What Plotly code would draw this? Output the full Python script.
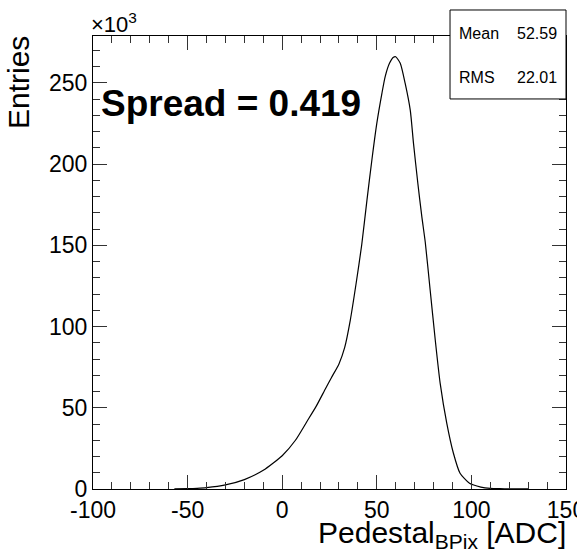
import plotly.graph_objects as go

# Histogram contour (pedestal in ADC, entries in thousands)
pedestal = [-57, -50, -45, -40, -30, -20, -10, 0, 7, 13, 18, 23, 26, 30, 33, 36, 39, 42,
            44.8, 47.4, 50, 52.7, 54.4, 56.7, 58.8, 60, 62.4, 65, 67.7, 69.4, 71.7, 73.8,
            75.6, 78.2, 80.9, 83.5, 87, 90.5, 94, 99, 105, 110, 115, 120, 125, 130]
entries_k = [0.05, 0.2, 0.4, 0.8, 2.5, 5.8, 11.5, 20.5, 30, 41.4, 51, 62, 68.5, 77, 87, 104, 126, 150,
             177.8, 202.5, 225, 243.5, 253.7, 262, 265.7, 266, 262, 249.6, 233, 212.7, 188, 167.6,
             152, 122.5, 91.7, 65, 40.4, 22, 9.7, 3.5, 1.2, 0.4, 0.2, 0.1, 0.05, 0.02]

x_ticks = [-100, -50, 0, 50, 100, 150]
y_ticks = [0, 50, 100, 150, 200, 250]
stats_names = ["Mean", "RMS"]
stats_values = ["52.59", "22.01"]
spread_text = "Spread = 0.419"

FONT = "Liberation Sans, Arial, Helvetica, sans-serif"

fig = go.Figure()
fig.add_trace(go.Scatter(x=pedestal, y=entries_k, mode="lines",
                         line=dict(color="black", width=1.2, shape="spline", smoothing=0.6),
                         showlegend=False, hoverinfo="skip"))

axis_common = dict(showline=True, linecolor="black", linewidth=1, mirror="ticks",
                   ticks="inside", ticklen=14, tickcolor="#333", tickwidth=1,
                   showgrid=False, zeroline=False, ticklabeloverflow="allow", automargin=False,
                   tickfont=dict(family=FONT, size=23, color="black"))

fig.update_xaxes(range=[-100, 150], tickvals=x_ticks, ticktext=[str(v) for v in x_ticks],
                 minor=dict(ticks="inside", ticklen=7, dtick=10, tick0=0, tickcolor="#333", showgrid=False),
                 **axis_common)
fig.update_yaxes(range=[0, 278.8], tickvals=y_ticks, ticktext=[str(v) for v in y_ticks],
                 minor=dict(ticks="inside", ticklen=7, dtick=10, tick0=0, tickcolor="#333", showgrid=False),
                 **axis_common)

fig.update_layout(
    width=577, height=554,
    margin=dict(l=93, r=11, t=36, b=65, autoexpand=False),
    paper_bgcolor="white", plot_bgcolor="white",
    font=dict(family=FONT, color="black"),
)

# x10^3 multiplier
fig.add_annotation(xref="paper", yref="paper", x=0, y=1.0, xanchor="left", yanchor="bottom",
                   text="×10<sup>3</sup>", showarrow=False, font=dict(size=22), xshift=-4, yshift=-3)

# axis titles
fig.add_annotation(xref="paper", yref="paper", x=1.0, y=0, xanchor="right", yanchor="top",
                   text="Pedestal<sub>BPix</sub> [ADC]", showarrow=False,
                   font=dict(size=30), xshift=2, yshift=-25)
fig.add_annotation(xref="paper", yref="paper", x=0, y=1.0, xanchor="right", yanchor="top",
                   text="Entries", textangle=-90, showarrow=False,
                   font=dict(size=30), xshift=-56, yshift=2)

# Spread label
fig.add_annotation(xref="paper", yref="paper", x=0.012, y=0.852, xanchor="left", yanchor="middle",
                   text="<b>" + spread_text + "</b>", showarrow=False, font=dict(size=37))

# Stats box
fig.add_shape(type="rect", xref="paper", yref="paper", x0=0.7548, x1=1.0, y0=0.861, y1=1.0574,
              fillcolor="white", line=dict(color="black", width=1), layer="above")
for i, (n, v) in enumerate(zip(stats_names, stats_values)):
    yp = (489 - (34 + i * 43.5)) / 453
    fig.add_annotation(xref="paper", yref="paper", x=(457 - 93) / 473, y=yp, xanchor="left",
                       yanchor="middle", text=n, showarrow=False, font=dict(size=16))
    fig.add_annotation(xref="paper", yref="paper", x=(558.5 - 93) / 473, y=yp, xanchor="right",
                       yanchor="middle", text=v, showarrow=False, font=dict(size=16))

fig.write_html("out.html")
